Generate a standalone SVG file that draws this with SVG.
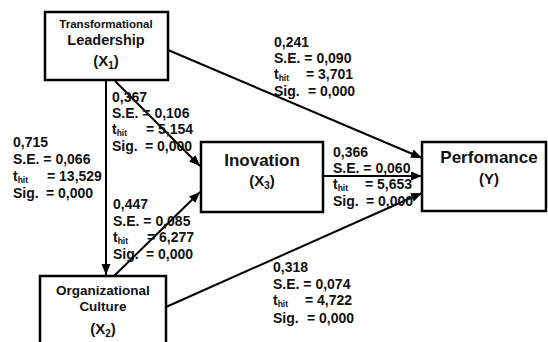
<svg xmlns="http://www.w3.org/2000/svg" width="548" height="342" viewBox="0 0 548 342">
<defs>
<marker id="ah" markerUnits="userSpaceOnUse" markerWidth="12" markerHeight="10" refX="11" refY="4.5" orient="auto">
<path d="M0,0 L11,4.5 L0,9 Z" fill="#000"/>
</marker>
<style>
.box{fill:#fff;stroke:#000;stroke-width:2.5}
.ln{stroke:#000;stroke-width:2;fill:none}
text{font-family:"Liberation Sans",Arial,sans-serif;font-weight:bold;fill:#111}
.c{text-anchor:middle}
.lb{font-size:14px}
.sub{font-size:8.5px}
</style>
</defs>
<rect width="548" height="342" fill="#fff"/>
<g id="connectors">
<line class="ln" x1="106" y1="80" x2="106" y2="275" marker-end="url(#ah)"/>
<line class="ln" x1="115" y1="81" x2="200" y2="166" marker-end="url(#ah)"/>
<line class="ln" x1="113" y1="277" x2="200" y2="192" marker-end="url(#ah)"/>
<line class="ln" x1="168" y1="50" x2="422" y2="158" marker-end="url(#ah)"/>
<line class="ln" x1="323" y1="176" x2="422" y2="176" marker-end="url(#ah)"/>
<line class="ln" x1="166" y1="307" x2="422" y2="193" marker-end="url(#ah)"/>
</g>
<g id="node-x1">
<rect class="box" x="45" y="12" width="123" height="68"/>
<text class="c" x="106" y="28" font-size="11.5">Transformational</text>
<text class="c" x="106" y="45" font-size="14.5">Leadership</text>
<text class="c" x="106" y="66" font-size="15">(X<tspan font-size="10" dy="3">1</tspan><tspan dy="-3">)</tspan></text>
</g>
<g id="node-x3">
<rect class="box" x="201" y="142" width="122" height="70"/>
<text class="c" x="262" y="166" font-size="17">Inovation</text>
<text class="c" x="262" y="186" font-size="15">(X<tspan font-size="10" dy="3">3</tspan><tspan dy="-3">)</tspan></text>
</g>
<g id="node-y">
<rect class="box" x="422" y="142" width="124" height="69"/>
<text class="c" x="489" y="163" font-size="17">Perfomance</text>
<text class="c" x="489" y="184" font-size="15">(Y)</text>
</g>
<g id="node-x2">
<rect class="box" x="40" y="276" width="126" height="80"/>
<text class="c" x="103" y="295" font-size="13.5">Organizational</text>
<text class="c" x="103" y="311" font-size="13.5">Culture</text>
<text class="c" x="103" y="334" font-size="15">(X<tspan font-size="10" dy="3">2</tspan><tspan dy="-3">)</tspan></text>
</g>
<g id="labels">
<g id="lbl-x1-x2">
<text x="13" y="147" class="lb">0,715</text>
<text x="13" y="164" class="lb">S.E. = 0,066</text>
<text x="13" y="181" class="lb">t<tspan class="sub" dy="2">hit</tspan><tspan x="47" dy="-2">= 13,529</tspan></text>
<text x="13" y="198" class="lb">Sig.<tspan x="46">= 0,000</tspan></text>
</g>
<g id="lbl-x1-x3">
<text x="112" y="102" class="lb">0,367</text>
<text x="112" y="118" class="lb">S.E. = 0,106</text>
<text x="112" y="134" class="lb">t<tspan class="sub" dy="2">hit</tspan><tspan x="146" dy="-2">= 5,154</tspan></text>
<text x="112" y="151" class="lb">Sig.<tspan x="145">= 0,000</tspan></text>
</g>
<g id="lbl-x2-x3">
<text x="113" y="209" class="lb">0,447</text>
<text x="113" y="226" class="lb">S.E. = 0,085</text>
<text x="113" y="242" class="lb">t<tspan class="sub" dy="2">hit</tspan><tspan x="147" dy="-2">= 6,277</tspan></text>
<text x="113" y="259" class="lb">Sig.<tspan x="146">= 0,000</tspan></text>
</g>
<g id="lbl-x1-y">
<text x="274" y="47" class="lb">0,241</text>
<text x="274" y="63" class="lb">S.E. = 0,090</text>
<text x="274" y="79" class="lb">t<tspan class="sub" dy="2">hit</tspan><tspan x="306" dy="-2">= 3,701</tspan></text>
<text x="274" y="96" class="lb">Sig.<tspan x="308">= 0,000</tspan></text>
</g>
<g id="lbl-x3-y">
<text x="333" y="157" class="lb">0,366</text>
<text x="333" y="173" class="lb">S.E. = 0,060</text>
<text x="333" y="189" class="lb">t<tspan class="sub" dy="2">hit</tspan><tspan x="365" dy="-2">= 5,653</tspan></text>
<text x="333" y="206" class="lb">Sig.<tspan x="366">= 0,000</tspan></text>
</g>
<g id="lbl-x2-y">
<text x="273" y="272" class="lb">0,318</text>
<text x="273" y="289" class="lb">S.E. = 0,074</text>
<text x="273" y="305" class="lb">t<tspan class="sub" dy="2">hit</tspan><tspan x="305" dy="-2">= 4,722</tspan></text>
<text x="273" y="323" class="lb">Sig.<tspan x="307">= 0,000</tspan></text>
</g>
</g>
</svg>
